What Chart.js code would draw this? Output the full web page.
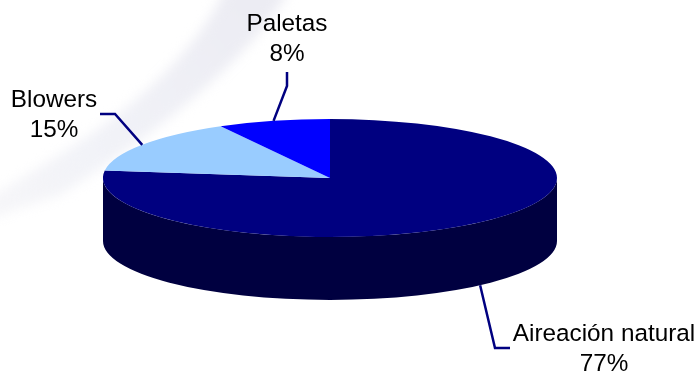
<!DOCTYPE html>
<html lang="es">
<head>
<meta charset="utf-8">
<title>Aireación</title>
<script src="https://cdn.jsdelivr.net/npm/chart.js@4"></script>
<style>
    html, body { margin: 0; padding: 0; background: #ffffff; overflow: hidden; }
    canvas { display: block; }
</style>
</head>
<body>
<canvas id="ChartAireacion" width="699" height="373"></canvas>
<script>
// Datos del gráfico
const categorias = ['Aireación natural', 'Blowers', 'Paletas'];
const porcentajes = [77, 15, 8];
const colores = ['#000080', '#99ccff', '#0000ff'];
const coloresLado = ['#000040', '#4c6680', '#000080'];

// Elipse de la cara superior del pastel
const centroX = 330, centroY = 178, radioX = 227, radioY = 59, profundidad = 63;

// Marca de agua gris del fondo
const fondoPlugin = {
    id: 'fondo',
    beforeDraw(chart) {
        const ctx = chart.ctx;
        ctx.save();
        ctx.filter = 'blur(6px)';
        const grad = ctx.createLinearGradient(0, 210, 250, 0);
        grad.addColorStop(0, 'rgba(242,242,246,0.7)');
        grad.addColorStop(0.3, 'rgba(242,243,248,1)');
        grad.addColorStop(1, 'rgba(236,236,243,1)');
        ctx.fillStyle = grad;
        ctx.beginPath();
        ctx.moveTo(226, -12);
        ctx.quadraticCurveTo(185, 75, 67, 150);
        ctx.lineTo(-12, 199);
        ctx.lineTo(-12, 219);
        ctx.lineTo(60, 195);
        ctx.quadraticCurveTo(240, 80, 290, -12);
        ctx.closePath();
        ctx.fill();
        ctx.restore();
    }
};

// Lado del pastel y aplastado de la cara superior
const pastel3dPlugin = {
    id: 'pastel3d',
    beforeDatasetsDraw(chart) {
        const ctx = chart.ctx;
        const arcos = chart.getDatasetMeta(0).data;
        ctx.save();
        arcos.forEach((arco, i) => {
            // Solo se ve la mitad delantera (0 a PI)
            const ini = Math.max(arco.startAngle, 0);
            const fin = Math.min(arco.endAngle, Math.PI);
            if (fin > ini) {
                ctx.fillStyle = coloresLado[i];
                ctx.beginPath();
                ctx.ellipse(centroX, centroY, radioX, radioY, 0, ini, fin);
                ctx.ellipse(centroX, centroY + profundidad, radioX, radioY, 0, fin, ini, true);
                ctx.closePath();
                ctx.fill();
            }
        });
        ctx.restore();

        const arco = arcos[0];
        ctx.save();
        ctx.translate(centroX, centroY);
        ctx.scale(radioX / arco.outerRadius, radioY / arco.outerRadius);
        ctx.translate(-arco.x, -arco.y);
    },
    afterDatasetsDraw(chart) {
        chart.ctx.restore();
    }
};

// Etiquetas y líneas guía, el ancla sale del ángulo de cada porción
const etiquetasPlugin = {
    id: 'etiquetas',
    afterDraw(chart) {
        const ctx = chart.ctx;
        const arcos = chart.getDatasetMeta(0).data;
        const anclas = arcos.map(arco => {
            const medio = (arco.startAngle + arco.endAngle) / 2;
            const y = centroY + radioY * Math.sin(medio);
            return {
                x: centroX + radioX * Math.cos(medio),
                y: Math.sin(medio) > 0 ? y + profundidad : y
            };
        });

        const guias = [
            [[anclas[0].x, anclas[0].y], [495, 348], [510, 348]],
            [[anclas[1].x, anclas[1].y], [115, 114], [100, 114]],
            [[anclas[2].x, anclas[2].y], [287, 86], [287, 72]]
        ];
        ctx.save();
        ctx.strokeStyle = '#000080';
        ctx.lineWidth = 2.5;
        guias.forEach(puntos => {
            ctx.beginPath();
            puntos.forEach((p, i) => i === 0 ? ctx.moveTo(p[0], p[1]) : ctx.lineTo(p[0], p[1]));
            ctx.stroke();
        });

        const posiciones = [[604, 341], [54, 107], [287, 31]];
        ctx.fillStyle = '#000000';
        ctx.font = '24.3px "Liberation Sans", Arial, sans-serif';
        ctx.textAlign = 'center';
        ctx.textBaseline = 'alphabetic';
        categorias.forEach((nombre, i) => {
            ctx.fillText(nombre, posiciones[i][0], posiciones[i][1]);
            ctx.fillText(porcentajes[i] + '%', posiciones[i][0], posiciones[i][1] + 30);
        });
        ctx.restore();
    }
};

const ctx = document.getElementById('ChartAireacion').getContext('2d');
const grafico = new Chart(ctx, {
    type: 'pie',
    data: {
        labels: categorias,
        datasets: [{
            data: porcentajes,
            backgroundColor: colores,
            borderWidth: 0
        }]
    },
    options: {
        responsive: false,
        animation: false,
        plugins: {
            legend: { display: false },
            tooltip: { enabled: false }
        }
    },
    plugins: [fondoPlugin, pastel3dPlugin, etiquetasPlugin]
});
</script>
</body>
</html>
